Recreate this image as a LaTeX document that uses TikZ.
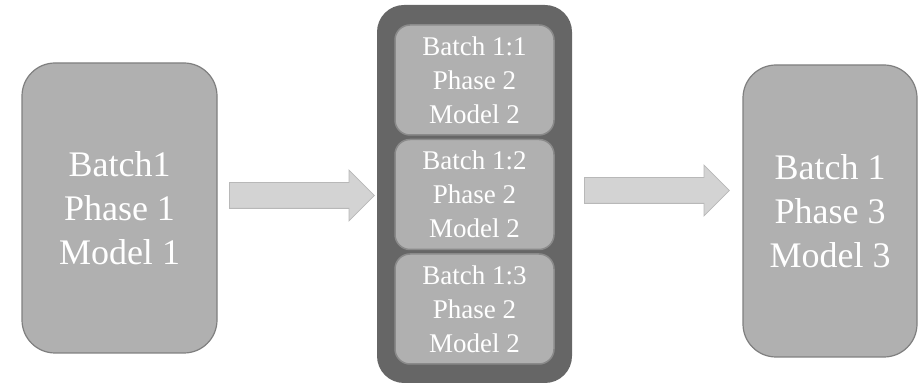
\documentclass[tikz,border=0pt]{standalone}
\usepackage{fontspec}
\setmainfont{Liberation Serif}
\usetikzlibrary{shapes.arrows}
\definecolor{boxfill}{HTML}{B0B0B0}
\definecolor{boxline}{HTML}{7F7F7F}
\definecolor{outerfill}{HTML}{666666}
\definecolor{innerline}{HTML}{8A8A8A}
\definecolor{arrfill}{HTML}{D3D3D3}
\definecolor{arrline}{HTML}{B8B8B8}
\tikzset{
  bigbox/.style={draw=boxline, fill=boxfill, line width=1.2pt, rounded corners=33pt, text=white,
    align=center, inner sep=0pt, font=\fontsize{36}{44}\selectfont},
  outerbox/.style={fill=outerfill, draw=none, rounded corners=27pt, inner sep=0pt},
  innerbox/.style={draw=innerline, fill=boxfill, line width=1.5pt, rounded corners=15pt, text=white,
    align=center, inner sep=0pt, minimum width=159pt, minimum height=110pt,
    font=\fontsize{27}{34}\selectfont},
  blockarrow/.style={single arrow, draw=arrline, fill=arrfill, line width=0.8pt,
    minimum height=145pt, minimum width=50pt, single arrow head extend=12.5pt,
    single arrow head indent=0pt, inner xsep=0pt, inner ysep=12.5pt, anchor=tail}
}
\begin{document}
\begin{tikzpicture}[x=1pt,y=1pt]
\useasboundingbox (0,0) rectangle (920,385);
\node[bigbox, minimum width=195pt, minimum height=290pt] (b1) at (119.5,177) {Batch1\\Phase 1\\Model 1};
\node[outerbox, minimum width=195pt, minimum height=378pt] (outer) at (474.5,191) {};
\node[innerbox] (i1) at (474.5,305) {Batch 1:1\\Phase 2\\Model 2};
\node[innerbox] (i2) at (474.5,190.5) {Batch 1:2\\Phase 2\\Model 2};
\node[innerbox] (i3) at (474.5,76) {Batch 1:3\\Phase 2\\Model 2};
\node[bigbox, minimum width=174pt, minimum height=292pt] (b3) at (830,174) {Batch 1\\Phase 3\\Model 3};
\node[blockarrow] (a1) at (229,189.5) {};
\node[blockarrow] (a2) at (584,194.5) {};
\end{tikzpicture}
\end{document}
